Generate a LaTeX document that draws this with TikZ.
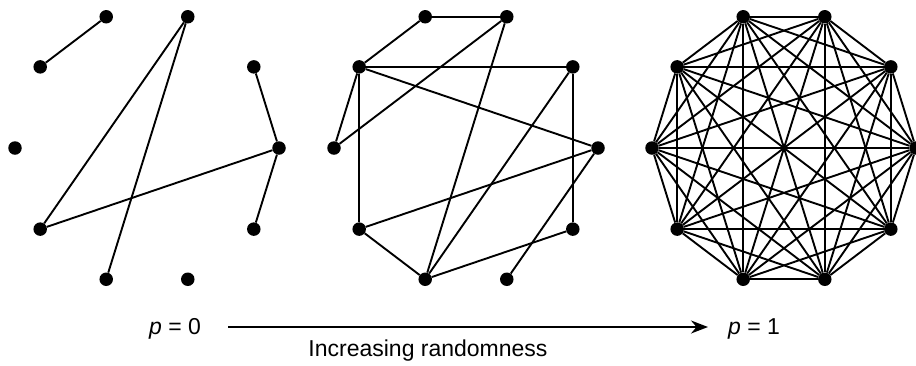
\documentclass[tikz,border=0pt]{standalone}
\usepackage{fontspec}
\setmainfont{Liberation Sans}
\usetikzlibrary{arrows.meta}
\begin{document}
\begin{tikzpicture}[x=1pt, y=-1pt, >={Stealth[length=17pt, width=13pt]},
  every node/.style={font=\fontsize{23}{26}\selectfont},
  dot/.style={circle, fill=black, inner sep=0pt, minimum size=13.5pt},
  edge/.style={line width=1.9pt}]
  \useasboundingbox (0,0) rectangle (916,365);
  % vertices of the three graphs
  \foreach \g/\cx in {a/147, b/466, c/784}
    \foreach \k in {0,...,9}
      \node[dot] (\g\k) at ({\cx+132*cos(36*\k)}, {148-138*sin(36*\k)}) {};
  % p = 0
  \foreach \u/\v in {3/4, 2/6, 2/7, 1/0, 0/6, 0/9}
    \draw[edge] (a\u) -- (a\v);
  % intermediate p
  \foreach \u/\v in {3/2, 3/4, 2/5, 2/7, 4/1, 4/5, 4/6, 4/0, 1/9, 1/7, 0/6, 0/8, 6/7, 7/9}
    \draw[edge] (b\u) -- (b\v);
  % p = 1
  \foreach \i in {0,...,8} {
    \pgfmathtruncatemacro\s{\i+1}
    \foreach \j in {\s,...,9}
      \draw[edge] (c\i) -- (c\j);
  }
  \node (p0) at (175,329) {{\itshape p} = 0};
  \node (p1) at (754,329) {{\itshape p} = 1};
  \coordinate (s) at (228,327);
  \coordinate (e) at (708,327);
  \draw[->, line width=1.6pt] (s) -- (e);
  \node (lbl) at (428,351) {Increasing randomness};
\end{tikzpicture}
\end{document}
